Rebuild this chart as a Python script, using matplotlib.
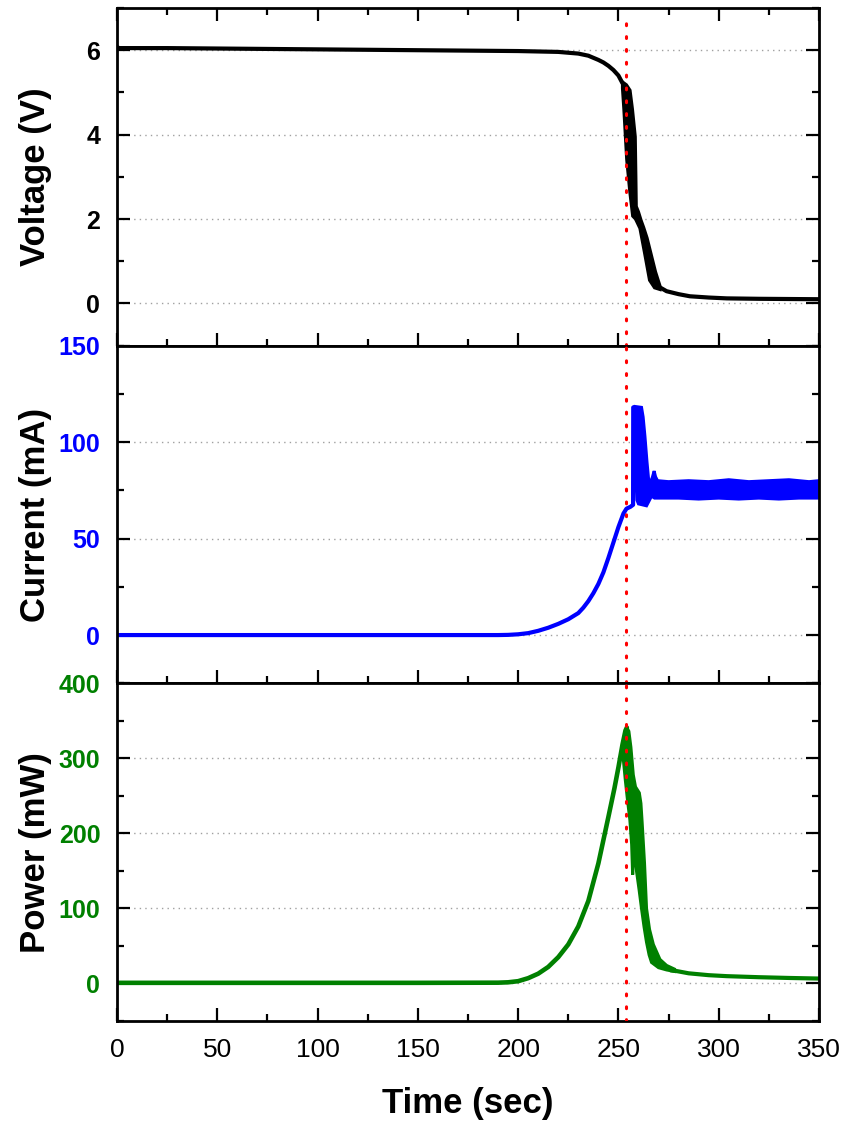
import matplotlib
matplotlib.use("Agg")
import matplotlib.pyplot as plt
import numpy as np

plt.rcParams['font.family'] = ['Liberation Sans', 'DejaVu Sans']

# time of the red marker line (sec)
t_mark = 253.6

# ---- voltage (V) ----
t_v = [0, 1, 25, 50, 100, 150, 200, 220, 230, 235, 240, 242.5, 245, 247.5, 250, 252]
v = [6.08, 6.05, 6.05, 6.04, 6.02, 6.0, 5.98, 5.96, 5.92, 5.87, 5.77, 5.71, 5.63, 5.53, 5.4, 5.22]
t_v_hi = [252, 254, 255.8, 257, 258.4, 258.7, 258.9, 260, 261.3, 262.6, 264.3, 266.4, 268.5, 270.7]
v_hi = [5.25, 5.18, 5.05, 4.6, 3.95, 3.0, 2.3, 2.17, 1.97, 1.8, 1.55, 1.15, 0.75, 0.42]
t_v_lo = [252, 252.7, 254.1, 255.7, 257.1, 258.5, 259.5, 260.7, 263, 265.5, 268, 270.7]
v_lo = [5.1, 4.6, 3.42, 2.63, 2.07, 2.0, 1.9, 1.78, 1.2, 0.55, 0.37, 0.33]
t_v2 = [270.7, 274, 280, 285.6, 295, 304, 320, 350]
v2 = [0.38, 0.29, 0.22, 0.17, 0.14, 0.12, 0.11, 0.1]

# ---- current (mA) ----
t_i = [0, 100, 190, 195, 200, 205, 210, 215, 220, 225, 230, 232.5, 235, 237.5, 240,
       242.5, 245, 247.5, 250, 252.5, 254, 256, 257.3, 257.4]
cur = [0, 0, 0, 0.1, 0.4, 1, 2.2, 3.8, 5.8, 8.2, 11.4, 14.2, 17.6, 21.7, 26.5,
       32.5, 40, 48, 56, 63, 65.5, 66.5, 67.5, 118]
t_i_hi = [257.4, 258, 261.5, 262.3, 263.2, 264.2, 265, 266, 267, 267.8, 268.5, 269.5,
          275, 285, 295, 305, 315, 325, 335, 345, 350]
i_hi = [118, 118.5, 118, 113, 103, 90, 81, 79, 82, 85, 82, 80,
        79.5, 80, 79.5, 80.5, 79.5, 80, 80.5, 79.5, 80]
t_i_lo = [257.4, 257.8, 258.6, 259.2, 260, 262, 264, 265.5, 266.5, 268, 280, 290,
          300, 310, 320, 330, 340, 350]
i_lo = [67.5, 100, 85, 70, 68, 67.5, 67, 70, 72, 71, 71, 70.5,
        71, 70.5, 71, 70.5, 71, 71]

# ---- power (mW) ----
t_p = [0, 50, 100, 150, 190, 195, 200, 205, 210, 215, 220, 225, 230, 235, 240,
       245, 248, 250, 252, 253.5, 254.2]
p = [0.8, 0.8, 0.8, 0.8, 1, 1.5, 3, 7, 13, 22, 35, 52, 76, 110, 160,
     222, 260, 288, 318, 337, 341]
t_p_hi = [252.4, 253.5, 254.2, 255.2, 256.2, 257.4, 258.5, 260.4, 261.2, 261.8, 263,
          264, 265.5, 267.4, 270.7, 274, 278]
p_hi = [308, 335, 341, 336, 315, 278, 262, 254, 240, 215, 160,
        100, 72, 52, 32, 24, 19]
t_p_lo = [252.4, 253.4, 254.5, 255.7, 256.6, 257.1, 257.6, 258.3, 259, 260.3, 261.6,
          262.8, 264, 265.3, 266.5, 270, 274, 278]
p_lo = [300, 272, 245, 218, 185, 145, 190, 165, 150, 125, 98,
        75, 55, 38, 28, 21, 18, 16]
t_p2 = [276, 279, 285, 295, 304, 320, 335, 350]
p2 = [17.5, 16.5, 13.5, 11, 9.7, 8.3, 7.3, 6.5]

fig, axs = plt.subplots(3, 1, sharex=True, figsize=(8.44, 11.27), dpi=100)
fig.subplots_adjust(left=0.1386, right=0.9704, top=0.9929, bottom=0.0941, hspace=0)


def band(ax, t_hi, y_hi, t_lo, y_lo, color):
    xs = np.concatenate([t_hi, t_lo[::-1]])
    ys = np.concatenate([y_hi, y_lo[::-1]])
    ax.fill(xs, ys, color=color, lw=2.2)


lw = 3.0
ax = axs[0]
ax.plot(t_v, v, color='black', lw=lw, solid_capstyle='round')
band(ax, t_v_hi, v_hi, t_v_lo, v_lo, 'black')
ax.plot(t_v2, v2, color='black', lw=lw, solid_capstyle='round')

ax = axs[1]
ax.plot(t_i, cur, color='blue', lw=lw, solid_capstyle='round')
band(ax, t_i_hi, i_hi, t_i_lo, i_lo, 'blue')

ax = axs[2]
ax.plot(t_p, p, color='green', lw=lw + 0.3, solid_capstyle='round')
band(ax, t_p_hi, p_hi, t_p_lo, p_lo, 'green')
ax.plot(t_p2, p2, color='green', lw=lw, solid_capstyle='round')

specs = [
    (axs[0], (-1, 7), 2, 1, 'black', 'Voltage (V)'),
    (axs[1], (-25, 150), 50, 25, 'blue', 'Current (mA)'),
    (axs[2], (-50, 400), 100, 50, 'green', 'Power (mW)'),
]
for k, (ax, lim, maj, mnr, col, lab) in enumerate(specs):
    ax.set_ylim(*lim)
    ax.set_xlim(0, 350)
    ax.yaxis.set_major_locator(plt.MultipleLocator(maj))
    ax.yaxis.set_minor_locator(plt.MultipleLocator(mnr))
    ax.xaxis.set_major_locator(plt.MultipleLocator(50))
    ax.xaxis.set_minor_locator(plt.MultipleLocator(25))
    ax.yaxis.grid(True, which='major', color='#a0a0a0', linestyle=(0, (1, 3)), lw=1)
    ax.set_axisbelow(True)
    ax.tick_params(which='both', direction='in', right=True, top=(k == 0),
                   width=1.6)
    ax.tick_params(which='major', length=9.5)
    ax.tick_params(which='minor', length=5)
    ax.tick_params(axis='y', labelsize=18, labelcolor=col, pad=12)
    for tl in ax.get_yticklabels():
        tl.set_fontweight('bold')
    ax.set_ylabel(lab, fontsize=25, fontweight='bold')
    ax.yaxis.set_label_coords(-0.092, 0.5)
    for s in ax.spines.values():
        s.set_linewidth(2)
    ymax = 0.955 if k == 0 else 1
    ax.axvline(t_mark, ymax=ymax, color='red', lw=2.2,
               linestyle=(0, (0.6, 3.6)), dash_capstyle='round', zorder=5)

axs[2].tick_params(axis='x', labelsize=19, pad=12)
axs[2].set_xlabel('Time (sec)', fontsize=25, fontweight='bold', labelpad=18)

plt.savefig('out.png', dpi=100)
